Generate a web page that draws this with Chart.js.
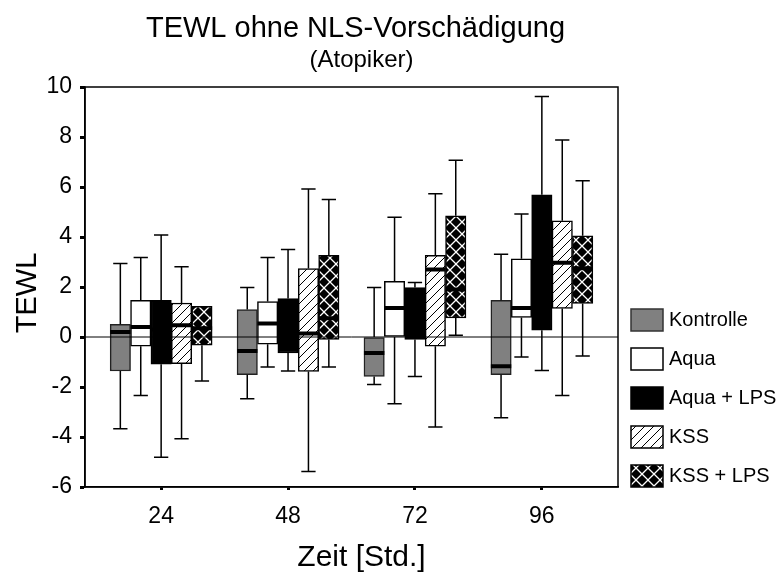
<!DOCTYPE html>
<html>
<head>
<meta charset="utf-8">
<script src="https://cdn.jsdelivr.net/npm/chart.js@4.4.1/dist/chart.umd.min.js"></script>
<style>
  html, body { margin: 0; padding: 0; background: #fff; }
  #wrap { width: 779px; height: 572px; }
</style>
</head>
<body>
<div id="wrap"><canvas id="tewl"></canvas></div>
<script>
const zeiten = [24, 48, 72, 96];
const gruppen = ["Kontrolle", "Aqua", "Aqua + LPS", "KSS", "KSS + LPS"];
const yTicks = [-6, -4, -2, 0, 2, 4, 6, 8, 10];

// je Zeitpunkt: [min, q1, median, q3, max]
const kontrolle = [[-3.67, -1.36, 0.2, 0.51, 2.94], [-2.47, -1.51, -0.56, 1.1, 1.98], [-1.9, -1.58, -0.64, 0.0, 1.98], [-3.23, -1.51, -1.17, 1.47, 3.31]];
const aqua = [[-2.34, -0.37, 0.4, 1.47, 3.18], [-1.2, -0.29, 0.54, 1.42, 3.18], [-2.67, 0.0, 1.16, 2.23, 4.79], [-0.8, 0.78, 1.16, 3.13, 4.92]];
const aquaLps = [[-4.81, -1.09, 0.3, 1.47, 4.08], [-1.36, -0.64, 0.4, 1.54, 3.5], [-1.58, -0.1, 1.0, 1.98, 2.18], [-1.34, 0.27, 3.0, 5.69, 9.62]];
const kss = [[-4.07, -1.07, 0.47, 1.36, 2.81], [-5.38, -1.38, 0.14, 2.74, 5.92], [-3.6, -0.37, 2.7, 3.27, 5.73], [-2.34, 1.14, 2.97, 4.65, 7.88]];
const kssLps = [[-1.76, -0.33, 0.35, 1.23, 1.23], [-1.2, -0.1, 0.75, 3.27, 5.5], [0.07, 0.76, 1.9, 4.85, 7.07], [-0.76, 1.34, 2.75, 4.05, 6.25]];

const serien = [kontrolle, aqua, aquaLps, kss, kssLps];

const schrift = "Arial, 'Liberation Sans', sans-serif";
Chart.defaults.font.family = schrift;
Chart.defaults.color = "#000";

function schraffur() {
    const c = document.createElement("canvas");
    c.width = 9; c.height = 9;
    const g = c.getContext("2d");
    g.fillStyle = "#fff";
    g.fillRect(0, 0, 9, 9);
    g.strokeStyle = "#000";
    g.lineWidth = 1;
    g.beginPath();
    g.moveTo(-1, 10); g.lineTo(10, -1);
    g.stroke();
    return g.createPattern(c, "repeat");
}

function kreuzmuster() {
    const c = document.createElement("canvas");
    c.width = 12; c.height = 12;
    const g = c.getContext("2d");
    g.fillStyle = "#000";
    g.fillRect(0, 0, 12, 12);
    g.strokeStyle = "#fff";
    g.lineWidth = 1.3;
    g.beginPath();
    g.moveTo(0, 0); g.lineTo(12, 12);
    g.moveTo(0, 12); g.lineTo(12, 0);
    g.stroke();
    return g.createPattern(c, "repeat");
}

const fuellungen = ["#808080", "#ffffff", "#000000", schraffur(), kreuzmuster()];

const boxplot = {
    id: "boxplot",
    afterDatasetsDraw(chart) {
        const { ctx, chartArea: a, scales: { y } } = chart;
        ctx.save();
        chart.data.datasets.forEach((ds, d) => {
            chart.getDatasetMeta(d).data.forEach((bar, i) => {
                const [lo, q1, med, q3, hi] = serien[d][i];
                const { x, width } = bar.getProps(["x", "width"], true);
                const cap = width * 0.35;
                ctx.strokeStyle = "#000";
                ctx.lineWidth = 1.5;
                ctx.beginPath();
                if (hi > q3) {
                    ctx.moveTo(x, y.getPixelForValue(q3));
                    ctx.lineTo(x, y.getPixelForValue(hi));
                    ctx.moveTo(x - cap, y.getPixelForValue(hi));
                    ctx.lineTo(x + cap, y.getPixelForValue(hi));
                }
                if (lo < q1) {
                    ctx.moveTo(x, y.getPixelForValue(q1));
                    ctx.lineTo(x, y.getPixelForValue(lo));
                    ctx.moveTo(x - cap, y.getPixelForValue(lo));
                    ctx.lineTo(x + cap, y.getPixelForValue(lo));
                }
                ctx.stroke();
                ctx.fillStyle = "#000";
                ctx.fillRect(x - width / 2, y.getPixelForValue(med) - 2, width, 4);
            });
        });
        // Nulllinie und Rahmen
        const y0 = y.getPixelForValue(0);
        ctx.strokeStyle = "#000";
        ctx.lineWidth = 1;
        ctx.beginPath();
        ctx.moveTo(a.left, y0);
        ctx.lineTo(a.right, y0);
        ctx.stroke();
        ctx.lineWidth = 1.5;
        ctx.strokeRect(a.left, a.top, a.right - a.left, a.bottom - a.top);
        ctx.restore();
    },
    afterDraw(chart) {
        const { ctx, chartArea: a } = chart;
        const mitte = (a.left + a.right) / 2;
        ctx.save();
        ctx.fillStyle = "#000";
        // Titel, Untertitel, Achsentitel
        ctx.textAlign = "center";
        ctx.textBaseline = "alphabetic";
        ctx.font = "29px " + schrift;
        ctx.fillText("TEWL ohne NLS-Vorschädigung", mitte + 4, 37);
        ctx.font = "24px " + schrift;
        ctx.fillText("(Atopiker)", mitte + 10, 67);
        ctx.font = "30px " + schrift;
        ctx.fillText("Zeit [Std.]", mitte + 10, 566);
        ctx.save();
        ctx.translate(36, (a.top + a.bottom) / 2 + 6);
        ctx.rotate(-Math.PI / 2);
        ctx.font = "29px " + schrift;
        ctx.fillText("TEWL", 0, 0);
        ctx.restore();
        // Legende
        ctx.textAlign = "left";
        ctx.textBaseline = "middle";
        ctx.font = "20px " + schrift;
        gruppen.forEach((g, d) => {
            const cy = 320 + d * 39;
            const x0 = a.right + 13;
            ctx.fillStyle = fuellungen[d];
            ctx.fillRect(x0, cy - 11, 32, 22);
            ctx.strokeStyle = d === 0 ? "#333" : "#000";
            ctx.lineWidth = 1.5;
            ctx.strokeRect(x0, cy - 11, 32, 22);
            ctx.fillStyle = "#000";
            ctx.fillText(g, x0 + 38, cy);
        });
        ctx.restore();
    },
};

new Chart(document.getElementById("tewl"), {
    type: "bar",
    data: {
        datasets: gruppen.map((g, d) => ({
            label: g,
            data: zeiten.map((t, i) => ({ x: t, y: [serien[d][i][1], serien[d][i][3]] })),
            backgroundColor: fuellungen[d],
            borderColor: d === 0 ? "#222" : "#000",
            borderWidth: 1.5,
            borderSkipped: false,
            barThickness: 20.4,
        })),
    },
    options: {
        responsive: true,
        maintainAspectRatio: false,
        animation: false,
        layout: {
            padding: { left: 8, right: 161, top: 87, bottom: 0 },
        },
        plugins: {
            legend: { display: false },
            tooltip: { enabled: false },
        },
        scales: {
            x: {
                type: "linear",
                offset: false,
                bounds: "data",
                min: 9.6,
                max: 110.4,
                afterBuildTicks: (s) => { s.ticks = zeiten.map((v) => ({ value: v })); },
                afterFit: (s) => { s.height = 85; },
                ticks: { font: { size: 23 }, padding: 13 },
                grid: { offset: false, drawOnChartArea: false, tickLength: 3, tickWidth: 3, tickColor: "#000" },
                border: { color: "#000", width: 1.5 },
            },
            y: {
                min: -6,
                max: 10,
                afterBuildTicks: (s) => { s.ticks = yTicks.map((v) => ({ value: v })); },
                afterFit: (s) => { s.width = 77; },
                ticks: { font: { size: 23 }, padding: 8 },
                grid: { drawOnChartArea: false, tickLength: 5, tickWidth: 3, tickColor: "#000" },
                border: { color: "#000", width: 1.5 },
            },
        },
    },
    plugins: [boxplot],
});
</script>
</body>
</html>
